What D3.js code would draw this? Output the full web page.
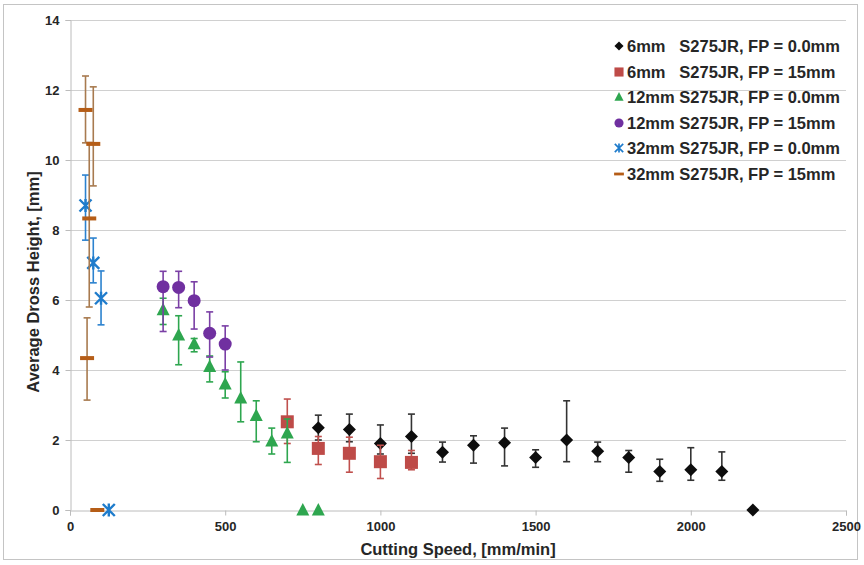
<!DOCTYPE html>
<meta charset="utf-8">
<style>
    body { margin: 0; background: #fff; }
    text { font-family: "Liberation Sans", Arial, sans-serif; font-weight: bold; fill: #262626; }
    .grid line { stroke: #d0d0d0; }
    .legend text { font-size: 16.5px; white-space: pre; }
</style>
<svg width="864" height="565"></svg>
<script src="https://d3js.org/d3.v7.min.js"></script>
<script>
    // 6mm S275JR, FP = 0.0mm
    var s1x = [800, 900, 1000, 1100, 1200, 1300, 1400, 1500, 1600, 1700, 1800, 1900, 2000, 2100, 2200];
    var s1y = [2.35, 2.3, 1.9, 2.1, 1.65, 1.85, 1.92, 1.5, 2.0, 1.68, 1.5, 1.1, 1.15, 1.1, 0];
    var s1lo = [2.0, 1.95, 1.6, 1.62, 1.37, 1.34, 1.26, 1.22, 1.38, 1.38, 1.08, 0.82, 0.85, 0.85, null];
    var s1hi = [2.71, 2.74, 2.43, 2.74, 1.94, 2.12, 2.34, 1.72, 3.12, 1.94, 1.7, 1.45, 1.78, 1.66, null];

    // 6mm S275JR, FP = 15mm
    var s2x = [700, 800, 900, 1000, 1100];
    var s2y = [2.52, 1.76, 1.62, 1.38, 1.36];
    var s2lo = [1.9, 1.3, 1.08, 0.9, 1.15];
    var s2hi = [3.17, 2.1, 2.08, 1.85, 1.7];

    // 12mm S275JR, FP = 0.0mm
    var s3x = [300, 350, 400, 450, 500, 550, 600, 650, 700, 750, 800];
    var s3y = [5.72, 5.0, 4.75, 4.1, 3.6, 3.2, 2.7, 1.97, 2.2, 0, 0];
    var s3lo = [5.3, 4.15, 4.52, 3.66, 3.2, 2.52, 1.95, 1.6, 1.36, null, null];
    var s3hi = [6.05, 5.55, 4.9, 4.4, 3.95, 4.23, 3.12, 2.34, 2.6, null, null];

    // 12mm S275JR, FP = 15mm
    var s4x = [300, 350, 400, 450, 500];
    var s4y = [6.38, 6.36, 5.98, 5.05, 4.74];
    var s4lo = [5.1, 5.78, 5.17, 4.37, 4.0];
    var s4hi = [6.82, 6.82, 6.52, 5.66, 5.26];

    // 32mm S275JR, FP = 0.0mm
    var s5x = [50, 75, 100, 125];
    var s5y = [8.7, 7.06, 6.05, 0];
    var s5lo = [7.71, 6.49, 5.29, null];
    var s5hi = [9.57, 7.77, 6.83, null];

    // 32mm S275JR, FP = 15mm
    var s6x = [50, 75, 62, 55, 88];
    var s6y = [11.43, 10.46, 8.33, 4.34, 0];
    var s6lo = [10.49, 9.26, 5.8, 3.14, null];
    var s6hi = [12.4, 12.09, 10.5, 5.49, null];

    var legendLabels = [
        "6mm   S275JR, FP = 0.0mm",
        "6mm   S275JR, FP = 15mm",
        "12mm S275JR, FP = 0.0mm",
        "12mm S275JR, FP = 15mm",
        "32mm S275JR, FP = 0.0mm",
        "32mm S275JR, FP = 15mm"
    ];
    var xTicks = [0, 500, 1000, 1500, 2000, 2500];
    var yTicks = [0, 2, 4, 6, 8, 10, 12, 14];

    var svg = d3.select("svg");
    var margin = {left: 70, right: 18, top: 20, bottom: 55};

    var x = d3.scaleLinear().domain([0, 2500]).range([margin.left, 846]);
    var y = d3.scaleLinear().domain([0, 14]).range([510, margin.top]);

    // outer chart border
    svg.append("rect")
        .attr("x", 3.5).attr("y", 4.5)
        .attr("width", 854).attr("height", 555)
        .attr("fill", "none").attr("stroke", "#c4c4c4");

    // gridlines
    svg.append("g").attr("class", "grid")
        .selectAll("line")
        .data(yTicks.filter(function (d) { return d > 0; }))
        .enter().append("line")
        .attr("x1", x(0)).attr("x2", x(2500))
        .attr("y1", function (d) { return Math.round(y(d)) + 0.5; })
        .attr("y2", function (d) { return Math.round(y(d)) + 0.5; });

    // axes
    var xAxis = svg.append("g")
        .attr("transform", "translate(0," + (Math.round(y(0)) + 0.5) + ")")
        .call(d3.axisBottom(x).tickValues(xTicks).tickFormat(d3.format("d")).tickSize(5).tickPadding(6));
    var yAxis = svg.append("g")
        .attr("transform", "translate(" + (Math.round(x(0)) + 0.5) + ",0)")
        .call(d3.axisLeft(y).tickValues(yTicks).tickFormat(d3.format("d")).tickSize(5).tickPadding(6));
    [xAxis, yAxis].forEach(function (a) {
        a.selectAll("path, line").attr("stroke", "#bcbcbc");
        a.selectAll("text").style("font-size", "13px").attr("fill", "#262626")
            .style("font-family", "'Liberation Sans', Arial, sans-serif").style("font-weight", "bold");
    });

    svg.append("text")
        .attr("x", x(1250)).attr("y", 555)
        .attr("text-anchor", "middle")
        .style("font-size", "16.5px")
        .text("Cutting Speed, [mm/min]");
    svg.append("text")
        .attr("transform", "translate(39,282) rotate(-90)")
        .attr("text-anchor", "middle")
        .style("font-size", "16.5px")
        .text("Average Dross Height, [mm]");

    // marker shapes
    function diamond(g, c) {
        g.append("path").attr("d", "M0,-6.5L6.5,0L0,6.5L-6.5,0Z").attr("fill", c);
    }
    function square(g, c) {
        g.append("rect").attr("x", -6.5).attr("y", -6.5).attr("width", 13).attr("height", 13).attr("fill", c);
    }
    function triangle(g, c) {
        g.append("path").attr("d", "M0,-7L6.5,5.5L-6.5,5.5Z").attr("fill", c);
    }
    function circle(g, c) {
        g.append("circle").attr("r", 6.5).attr("fill", c);
    }
    function cross(g, c) {
        g.append("path").attr("d", "M-6,-6L6,6M-6,6L6,-6M0,-6.5L0,6.5")
            .attr("stroke", c).attr("stroke-width", 2.4).attr("fill", "none");
    }
    function dash(g, c) {
        g.append("rect").attr("x", -7).attr("y", -2).attr("width", 14).attr("height", 4).attr("fill", c);
    }

    var series = [
        {xs: s1x, ys: s1y, lo: s1lo, hi: s1hi, color: "#0d0d0d", bar: "#333333", mark: diamond},
        {xs: s2x, ys: s2y, lo: s2lo, hi: s2hi, color: "#be4b48", bar: "#c0504d", mark: square},
        {xs: s3x, ys: s3y, lo: s3lo, hi: s3hi, color: "#2ea64f", bar: "#2ea64f", mark: triangle},
        {xs: s4x, ys: s4y, lo: s4lo, hi: s4hi, color: "#7030a0", bar: "#7a3fa5", mark: circle},
        {xs: s5x, ys: s5y, lo: s5lo, hi: s5hi, color: "#1f7ccc", bar: "#2c82cf", mark: cross},
        {xs: s6x, ys: s6y, lo: s6lo, hi: s6hi, color: "#b55d17", bar: "#a87a4f", mark: dash}
    ];

    series.forEach(function (s) {
        var pts = s.xs.map(function (v, i) {
            return {x: v, y: s.ys[i], lo: s.lo[i], hi: s.hi[i]};
        });
        var g = svg.append("g");
        // error bars
        pts.filter(function (p) { return p.lo != null; }).forEach(function (p) {
            var px = x(p.x);
            g.append("line").attr("x1", px).attr("x2", px)
                .attr("y1", y(p.lo)).attr("y2", y(p.hi))
                .attr("stroke", s.bar).attr("stroke-width", 1.6);
            [p.lo, p.hi].forEach(function (v) {
                g.append("line").attr("x1", px - 3.5).attr("x2", px + 3.5)
                    .attr("y1", y(v)).attr("y2", y(v))
                    .attr("stroke", s.bar).attr("stroke-width", 1.6);
            });
        });
        pts.forEach(function (p) {
            var m = g.append("g").attr("transform", "translate(" + x(p.x) + "," + y(p.y) + ")");
            s.mark(m, s.color);
        });
    });

    // legend
    var legend = svg.append("g").attr("class", "legend");
    var ly = [46, 72, 97, 123, 148, 174];
    legendLabels.forEach(function (lab, i) {
        var m = legend.append("g").attr("transform", "translate(619," + ly[i] + ") scale(0.7)");
        series[i].mark(m, series[i].color);
        legend.append("text")
            .attr("x", 627).attr("y", ly[i] + 6)
            .attr("xml:space", "preserve")
            .text(lab);
    });
</script>
